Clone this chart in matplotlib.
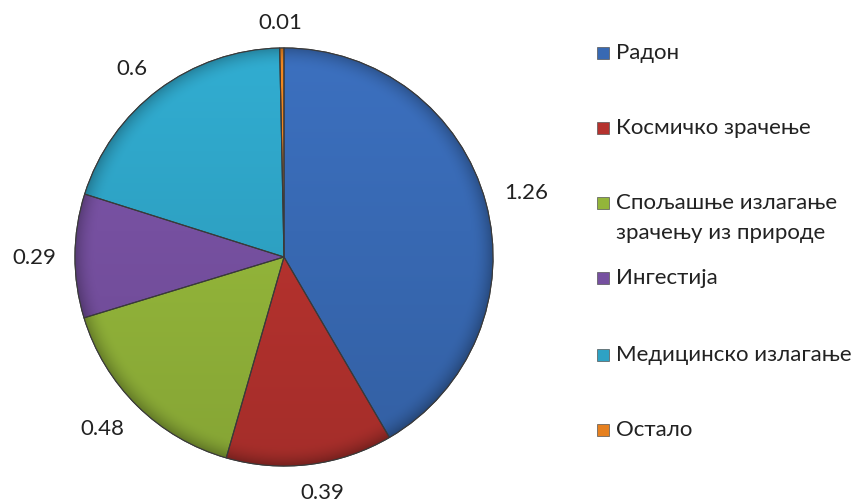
import matplotlib.pyplot as plt
import numpy as np
from matplotlib.colors import to_rgb
from matplotlib.patches import Wedge, Rectangle

categories = ["Радон", "Космичко зрачење", "Спољашње излагање\nзрачењу из природе",
              "Ингестија", "Медицинско излагање", "Остало"]
values = [1.26, 0.39, 0.48, 0.29, 0.6, 0.01]
colors = ["#3869B3", "#B5322E", "#93B53A", "#7650A0", "#2EA2C4", "#E6801F"]

plt.rcParams['font.family'] = ['Lato', 'Open Sans', 'DejaVu Sans']

W, H = 862, 503
fig = plt.figure(figsize=(W / 100, H / 100), dpi=100)

# pie axes: centre (284, 257) px, radius 209 px
cx, cy, rad, lim = 284, 257, 209, 1.25
size = 2 * rad * lim
ax = fig.add_axes([(cx - size / 2) / W, (H - cy - size / 2) / H, size / W, size / H])
ax.set_xlim(-lim, lim)
ax.set_ylim(-lim, lim)
ax.set_aspect("equal")
ax.axis("off")

wedges, texts = ax.pie(values, colors=colors, startangle=90, counterclock=False,
                       labels=[f"{v:g}" for v in values], labeldistance=1.2,
                       wedgeprops=dict(edgecolor="#3a3a3a", linewidth=0.8),
                       textprops=dict(fontsize=16, color="#222222"))

# soft shading inside each slice: darker toward bottom and near the rim
n = 400
xs = np.linspace(-1, 1, n)
X, Y = np.meshgrid(xs, xs[::-1])
R = np.hypot(X, Y)
shade = 1.07 - 0.16 * (1 - Y) / 2 - 0.25 * np.clip((R - 0.9) / 0.1, 0, 1) ** 2
for w, c in zip(wedges, colors):
    base = np.array(to_rgb(c))
    img = np.clip(base[None, None, :] * shade[:, :, None], 0, 1)
    im = ax.imshow(img, extent=(-1, 1, -1, 1), zorder=w.get_zorder() + 0.1,
                   interpolation="bilinear")
    im.set_clip_path(w)
    ax.add_patch(Wedge((0, 0), 1, w.theta1, w.theta2, facecolor="none",
                       edgecolor="#3a3a3a", linewidth=0.8,
                       zorder=w.get_zorder() + 0.2))
ax.set_xlim(-lim, lim)
ax.set_ylim(-lim, lim)

# value labels: a fixed gap outside the rim, pushed out by the text box size
fig.canvas.draw()
renderer = fig.canvas.get_renderer()
gap = 19
half_h = 8  # half of the digit height, px
for w, t in zip(wedges, texts):
    ang = np.deg2rad((w.theta1 + w.theta2) / 2)
    half_w = t.get_window_extent(renderer).width / 2
    px = (rad + gap) * np.cos(ang) + half_w * np.tanh(4 * np.cos(ang))
    py = (rad + gap) * np.sin(ang) + half_h * np.tanh(4 * np.sin(ang))
    t.set_position((px / rad, (py - half_h) / rad))
    t.set_ha("center")
    t.set_va("baseline")

# legend on the right
leg_y = [53, 128, 203, 278, 355, 430]
line_step = 30
for name, c, y in zip(categories, colors, leg_y):
    fig.patches.append(Rectangle((597 / W, (H - y - 6) / H), 12 / W, 12 / H,
                                 transform=fig.transFigure, facecolor=c,
                                 edgecolor="#555555", linewidth=0.5))
    for i, line in enumerate(name.split("\n")):
        fig.text(616 / W, (H - y - i * line_step) / H, line, fontsize=16,
                 color="#222222", ha="left", va="center")

fig.savefig("out.png", dpi=100)
